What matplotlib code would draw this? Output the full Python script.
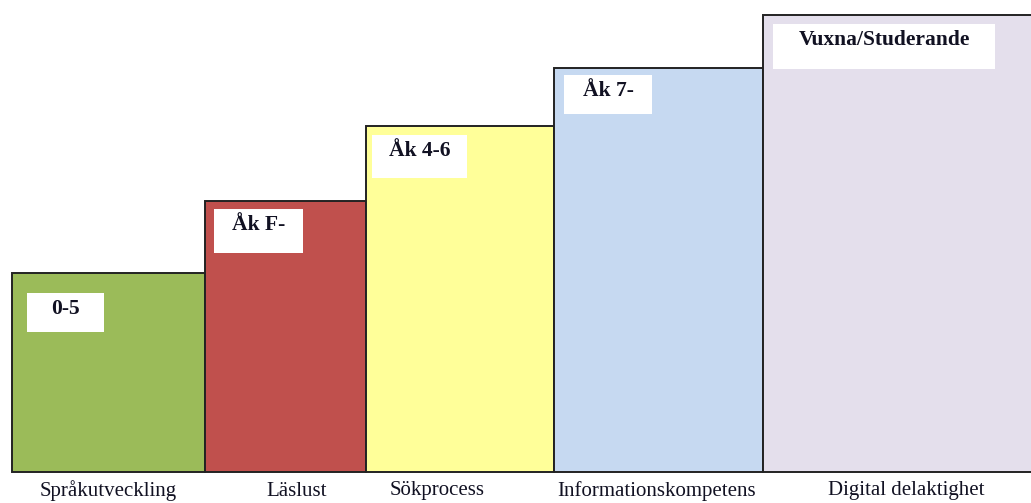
import matplotlib.pyplot as plt
from matplotlib.patches import Rectangle

# Steps of the staircase
categories = ["Språkutveckling", "Läslust", "Sökprocess",
              "Informationskompetens", "Digital delaktighet"]
stages = ["0-5", "Åk F-", "Åk 4-6", "Åk 7-", "Vuxna/Studerande"]
heights = [199, 271, 346, 404, 457]
widths = [193, 161, 188, 209, 280]

colors = ["#9BBB59", "#C0504D", "#FFFF99", "#C6D9F1", "#E4DFEC"]

# layout of the white stage boxes: (dx from bar left, dy below bar top, w, h)
boxes = [(15, 20, 77, 39), (9, 8, 89, 44), (6, 9, 95, 43),
         (10, 7, 88, 39), (10, 9, 222, 45)]
label_x = [108, 297, 437, 657, 906]

fig = plt.figure(figsize=(10.31, 5.03), dpi=100)
ax = fig.add_axes([0, 0, 1, 1])
ax.set_xlim(0, 1031)
ax.set_ylim(-31, 472)
ax.axis("off")

lefts = [12]
for w in widths[:-1]:
    lefts.append(lefts[-1] + w)

ax.bar(lefts, heights, width=widths, align="edge", color=colors,
       edgecolor="#222222", linewidth=1.4)

for left, h, (dx, dy, bw, bh), stage in zip(lefts, heights, boxes, stages):
    top = h - dy
    ax.add_patch(Rectangle((left + dx, top - bh), bw, bh,
                           facecolor="white", edgecolor="none", zorder=3))
    ax.text(left + dx + bw / 2, top - 16, stage, ha="center", va="center",
            fontsize=15.5, fontweight="bold", family="Liberation Serif",
            color="#111122", zorder=4)

for x, cat in zip(label_x, categories):
    ax.text(x, -19, cat, ha="center", va="center", fontsize=15,
            family="Liberation Serif", color="#111122")

fig.savefig("out.png", dpi=100)
